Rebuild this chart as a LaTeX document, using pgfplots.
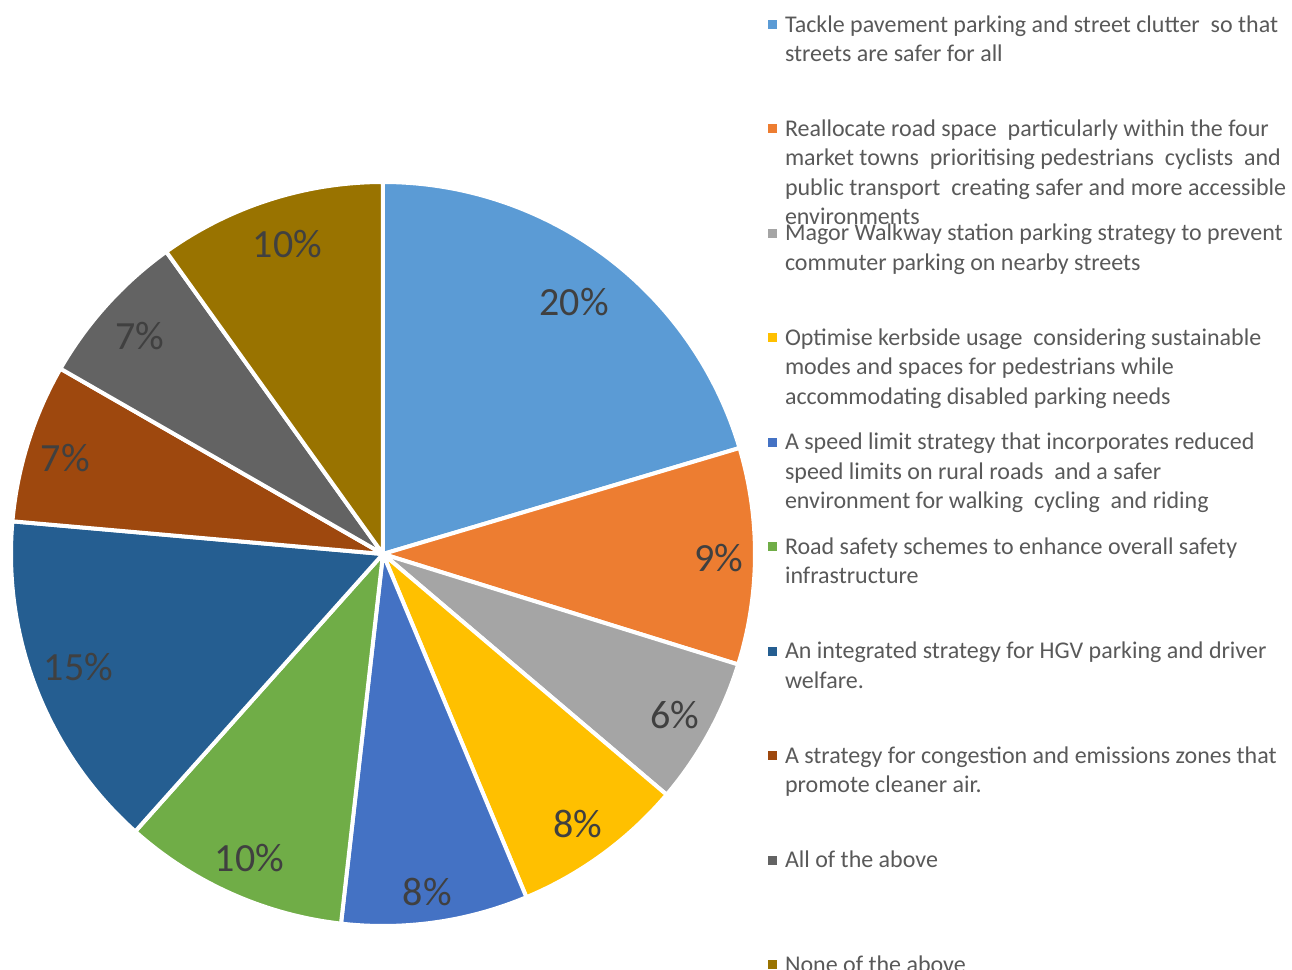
\documentclass[border=0pt]{standalone}
\usepackage{pgfplots}
\pgfplotsset{compat=1.18}
\usepackage{fontspec}
\setmainfont{Carlito}
\definecolor{s1}{HTML}{5B9BD5}
\definecolor{s2}{HTML}{ED7D31}
\definecolor{s3}{HTML}{A5A5A5}
\definecolor{s4}{HTML}{FFC000}
\definecolor{s5}{HTML}{4472C4}
\definecolor{s6}{HTML}{70AD47}
\definecolor{s7}{HTML}{255E91}
\definecolor{s8}{HTML}{9E480E}
\definecolor{s9}{HTML}{636363}
\definecolor{s10}{HTML}{997300}
\definecolor{legtext}{HTML}{595959}
\definecolor{labtext}{HTML}{404040}
\newcommand\legtxt[1]{\raisebox{0pt}[10pt][2pt]{\parbox[t]{260pt}{\fontsize{12}{14.65}\selectfont\raggedright\strut #1}}}
\def\acc{90}
\newcommand\slice[2]{%
  \pgfmathsetmacro\sA{\acc}%
  \pgfmathsetmacro\sB{\acc-3.6*#1}%
  \edef\doslice{\noexpand\addplot[fill=#2, draw=white, line width=2pt, line join=round, domain=\sB:\sA, samples=150, variable=\noexpand\t] ({cos(\noexpand\t)},{sin(\noexpand\t)}) -- (axis cs:0,0) -- cycle;}%
  \doslice
  \xdef\acc{\sB}%
}
\begin{document}
\begin{tikzpicture}
\begin{axis}[
  at={(0pt,0pt)}, anchor=center,
  width=372pt, height=372pt, scale only axis,
  xmin=-1, xmax=1, ymin=-1, ymax=1,
  hide axis, clip=false,
  legend cell align=left,
  legend image code/.code={\fill[#1,draw=none] (0pt,-2.75pt) rectangle (4.5pt,1.75pt);},
  legend style={draw=none, fill=none, at={(1.0175,1.2285)}, anchor=north west,
    inner sep=0pt, outer sep=0pt, column sep=4pt, row sep=40.74pt,
    nodes={inner sep=0pt, outer sep=0pt, text=legtext}},
]
% values in percent, clockwise from 12 o'clock
\slice{20.4}{s1}
\addlegendentry{\legtxt{Tackle pavement parking and street clutter~ so that\\streets are safer for all}}
\slice{9.4}{s2}
\addlegendentry{\legtxt{Reallocate road space~ particularly within the four\\market towns~ prioritising pedestrians~ cyclists~ and\\public transport~ creating safer and more accessible\\environments}}
\slice{6.4}{s3}
\addlegendentry{\legtxt{Magor Walkway station parking strategy to prevent\\commuter parking on nearby streets}}
\slice{7.5}{s4}
\addlegendentry{\legtxt{Optimise kerbside usage~ considering sustainable\\modes and spaces for pedestrians while\\accommodating disabled parking needs}}
\slice{8.1}{s5}
\addlegendentry{\legtxt{A speed limit strategy that incorporates reduced\\speed limits on rural roads~ and a safer\\environment for walking~ cycling~ and riding}}
\slice{9.8}{s6}
\addlegendentry{\legtxt{Road safety schemes to enhance overall safety\\infrastructure}}
\slice{14.8}{s7}
\addlegendentry{\legtxt{An integrated strategy for HGV parking and driver\\welfare.}}
\slice{6.9}{s8}
\addlegendentry{\legtxt{A strategy for congestion and emissions zones that\\promote cleaner air.}}
\slice{6.8}{s9}
\addlegendentry{\legtxt{All of the above}}
\slice{9.9}{s10}
\addlegendentry{\legtxt{None of the above}}
\begin{scope}[every node/.style={font=\fontsize{20}{24}\selectfont, text=labtext}]
\node at (axis cs:0.514,0.678) {20\%};
\node at (axis cs:0.903,-0.011) {9\%};
\node at (axis cs:0.784,-0.432) {6\%};
\node at (axis cs:0.524,-0.727) {8\%};
\node at (axis cs:0.119,-0.908) {8\%};
\node at (axis cs:-0.359,-0.816) {10\%};
\node at (axis cs:-0.819,-0.303) {15\%};
\node at (axis cs:-0.854,0.257) {7\%};
\node at (axis cs:-0.654,0.586) {7\%};
\node at (axis cs:-0.257,0.832) {10\%};
\end{scope}
\end{axis}
\pgfresetboundingbox
\path[use as bounding box] (-191.5pt,-208pt) rectangle (454.5pt,277pt);
\end{tikzpicture}
\end{document}
